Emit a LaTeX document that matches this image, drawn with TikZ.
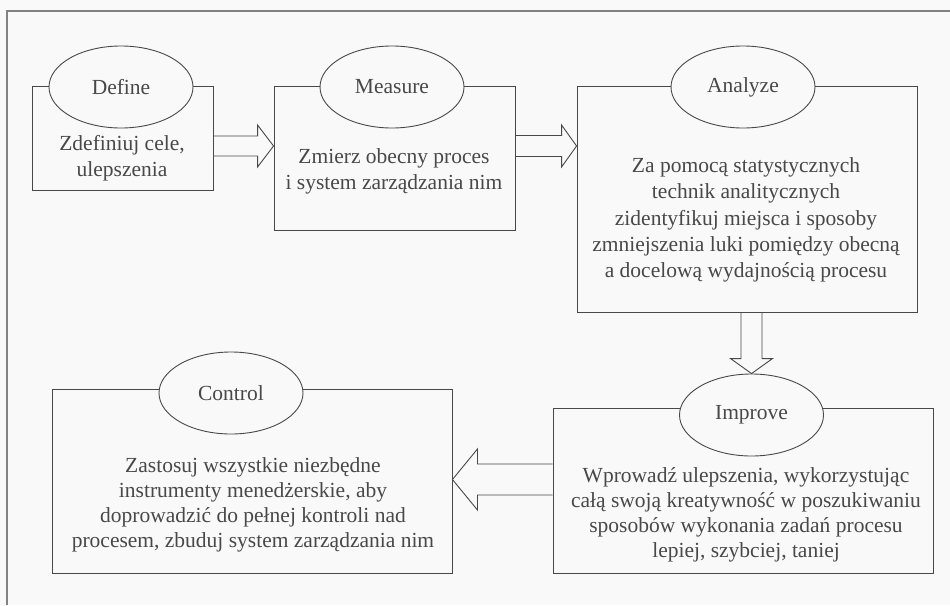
\documentclass[tikz,border=0pt]{standalone}
\usepackage{fontspec}
\setmainfont{Liberation Serif}
\usetikzlibrary{calc,shapes.geometric}
\definecolor{linegray}{RGB}{72,72,72}
\definecolor{txtgray}{RGB}{72,72,72}
\definecolor{framegray}{RGB}{130,130,130}
\definecolor{bg}{RGB}{249,249,249}
\newcommand{\fsA}{\fontsize{21.5}{26.2}\selectfont}
\newcommand{\fsB}{\fontsize{21.5}{25}\selectfont}
\begin{document}
\begin{tikzpicture}[x=1pt,y=-1pt,
  box/.style={draw=linegray, line width=0.9pt, rectangle, inner sep=0pt},
  phase/.style={draw=linegray, line width=0.9pt, ellipse, fill=bg,
    minimum width=144pt, minimum height=82pt, inner sep=0pt, font=\fsA, text=txtgray},
  bodyA/.style={align=center, font=\fsA, text=txtgray, inner sep=0pt},
  bodyB/.style={align=center, font=\fsB, text=txtgray, inner sep=0pt},
  barrow/.style={draw=linegray, line width=0.9pt, line join=miter},
  frameline/.style={draw=framegray, line width=1.6pt}]
\useasboundingbox (0,0) rectangle (950,605);
\fill[bg] (0,0) rectangle (950,605);
\draw[frameline] (950,11) -- (7,11) -- (7,605);

% boxes
\node[box, minimum width=181pt, minimum height=104pt] (defB) at (122.5,138) {};
\node[box, minimum width=241pt, minimum height=144pt] (meaB) at (394.5,158) {};
\node[box, minimum width=340pt, minimum height=226pt] (anaB) at (747,199) {};
\node[box, minimum width=380pt, minimum height=165pt] (impB) at (743,490.5) {};
\node[box, minimum width=400pt, minimum height=184pt] (conB) at (252,481) {};

% phase ellipses
\node[phase] (defE) at (121,87) {Define};
\node[phase] (meaE) at (392,87) {Measure};
\node[phase] (anaE) at (743,87) {Analyze};
\node[phase] (impE) at (751.5,415) {Improve};
\node[phase] (conE) at (231,393) {Control};

% body texts
\node[bodyA] (defT) at (122,158.5) {Zdefiniuj cele,\\ulepszenia};
\node[bodyA] (meaT) at (394,171.5) {Zmierz obecny proces\\i system zarządzania nim};
\node[bodyA] (anaT) at (746,220) {Za pomocą statystycznych\\technik analitycznych\\zidentyfikuj miejsca i sposoby\\zmniejszenia luki pomiędzy obecną\\a docelową wydajnością procesu};
\node[bodyB] (impT) at (746,514.5) {Wprowadź ulepszenia, wykorzystując\\całą swoją kreatywność w poszukiwaniu\\sposobów wykonania zadań procesu\\lepiej, szybciej, taniej};
\node[bodyB] (conT) at (253,504.5) {Zastosuj wszystkie niezbędne\\instrumenty menedżerskie, aby\\doprowadzić do pełnej kontroli nad\\procesem, zbuduj system zarządzania nim};

% block arrows
\draw[barrow] (defB.east |- 0,136) -- ($(meaB.west |- 0,136)+(-16,0)$)
  -- ($(meaB.west |- 0,125)+(-16,0)$) -- (meaB.west |- 0,146)
  -- ($(meaB.west |- 0,167)+(-16,0)$) -- ($(meaB.west |- 0,156)+(-16,0)$)
  -- (defB.east |- 0,156);
\draw[barrow] (meaB.east |- 0,135.5) -- ($(anaB.west |- 0,135.5)+(-15,0)$)
  -- ($(anaB.west |- 0,125)+(-15,0)$) -- (anaB.west |- 0,146)
  -- ($(anaB.west |- 0,167)+(-15,0)$) -- ($(anaB.west |- 0,156.5)+(-15,0)$)
  -- (meaB.east |- 0,156.5);
\draw[barrow] ($(anaB.south -| impE.north)+(-10.5,0)$) -- ($(impE.north)+(-10.5,-15)$)
  -- ($(impE.north)+(-21,-15)$) -- (impE.north)
  -- ($(impE.north)+(21,-15)$) -- ($(impE.north)+(10.5,-15)$)
  -- ($(anaB.south -| impE.north)+(10.5,0)$);
\draw[barrow] (impB.west |- 0,464) -- ($(conB.east |- 0,464)+(25,0)$)
  -- ($(conB.east |- 0,449)+(25,0)$) -- (conB.east |- 0,479.5)
  -- ($(conB.east |- 0,510)+(25,0)$) -- ($(conB.east |- 0,495)+(25,0)$)
  -- (impB.west |- 0,495);
\end{tikzpicture}
\end{document}
